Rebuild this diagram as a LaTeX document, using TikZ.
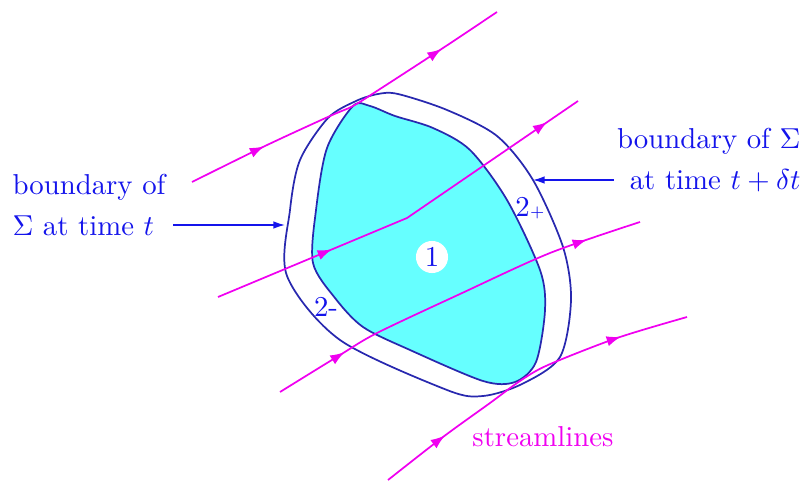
\documentclass[tikz,border=0pt]{standalone}
\usepackage{amsmath}
\usetikzlibrary{arrows.meta,decorations.markings}
\definecolor{bnd}{RGB}{40,40,175}
\definecolor{lbl}{RGB}{20,20,235}
\definecolor{regn}{RGB}{102,255,255}
\definecolor{flow}{RGB}{240,0,240}
\newcommand{\PX}{0.0122}

\begin{document}
\begin{tikzpicture}[x=\PX cm, y=-\PX cm,
    edge/.style={draw=bnd, line width=0.6pt},
    sline/.style 2 args={draw=flow, line width=0.6pt,
      decoration={markings,
        mark=at position #1 with {\arrow{Latex[length=5pt,width=3.6pt]}},
        mark=at position #2 with {\arrow{Latex[length=5pt,width=3.6pt]}}},
      postaction=decorate},
    tag/.style={text=lbl, inner sep=0pt},
    pointer/.style={draw=lbl, line width=0.5pt, -{Latex[length=4pt,width=2.6pt]}},
  ]
  \useasboundingbox (0,0) rectangle (804,480);

  %% ================= the two boundaries =================
  % at time t + dt
  \draw[edge] plot[smooth cycle, tension=0.5] coordinates {
    (356,101) (378,94) (398,94) (447,110) (497,136) (533,180) (563,247)
    (571,300) (560,357) (522,384) (483,396) (447,390) (340,340) (287,276)
    (290,210) (300,160) (328,118)};
  % at time t
  \filldraw[edge, fill=regn] plot[smooth cycle, tension=0.5] coordinates {
    (353,106) (370,106) (395,116) (433,128) (470,150) (507,200) (540,270)
    (545,310) (536,362) (515,382) (483,381) (410,350) (363,327) (335,298)
    (313,263) (316,210) (327,148)};

  %% ================= streamlines =================
  \draw[sline={0.23}{0.81}] plot[smooth] coordinates {
    (192,182) (265,146) (330,116) (353,106) (380,89) (440,50) (497,12)};
  \draw[sline={0.30}{0.91}] (218,297) -- (407,218) -- (578,101);
  \draw[sline={0.19}{0.86}] plot[smooth] coordinates {
    (280,392) (340,355) (377,333) (460,294) (550,253) (640,222)};
  \draw[sline={0.21}{0.80}] plot[smooth] coordinates {
    (388,480) (443,437) (490,403) (520,381) (548,365) (617,338) (687,317)};

  %% ================= labels =================
  \node[circle, fill=white, text=lbl, inner sep=1pt] (one) at (432,257) {1};
  \node[tag] (twoP) at (530,208) {2{\tiny +}};
  \node[tag] (twoM) at (326,307) {2-};
  \node[text=flow, inner sep=0pt] (stream) at (543,437) {streamlines};

  \coordinate (atT) at (285,225);
  \coordinate (atTdt) at (533,180);
  \node[tag, anchor=west, align=left] (bndT) at (12,205)
    {boundary of\\[2pt] $\Sigma$ at time $t$};
  \node[tag, anchor=east, align=right] (bndTdt) at (801,160)
    {boundary of $\Sigma$\\[2pt] at time $t+\delta t$};
  \draw[pointer, shorten <=2.5pt] (bndT.east |- atT) -- (atT);
  \draw[pointer, shorten <=1pt] (bndTdt.west |- atTdt) -- (atTdt);

\end{tikzpicture}
\end{document}
